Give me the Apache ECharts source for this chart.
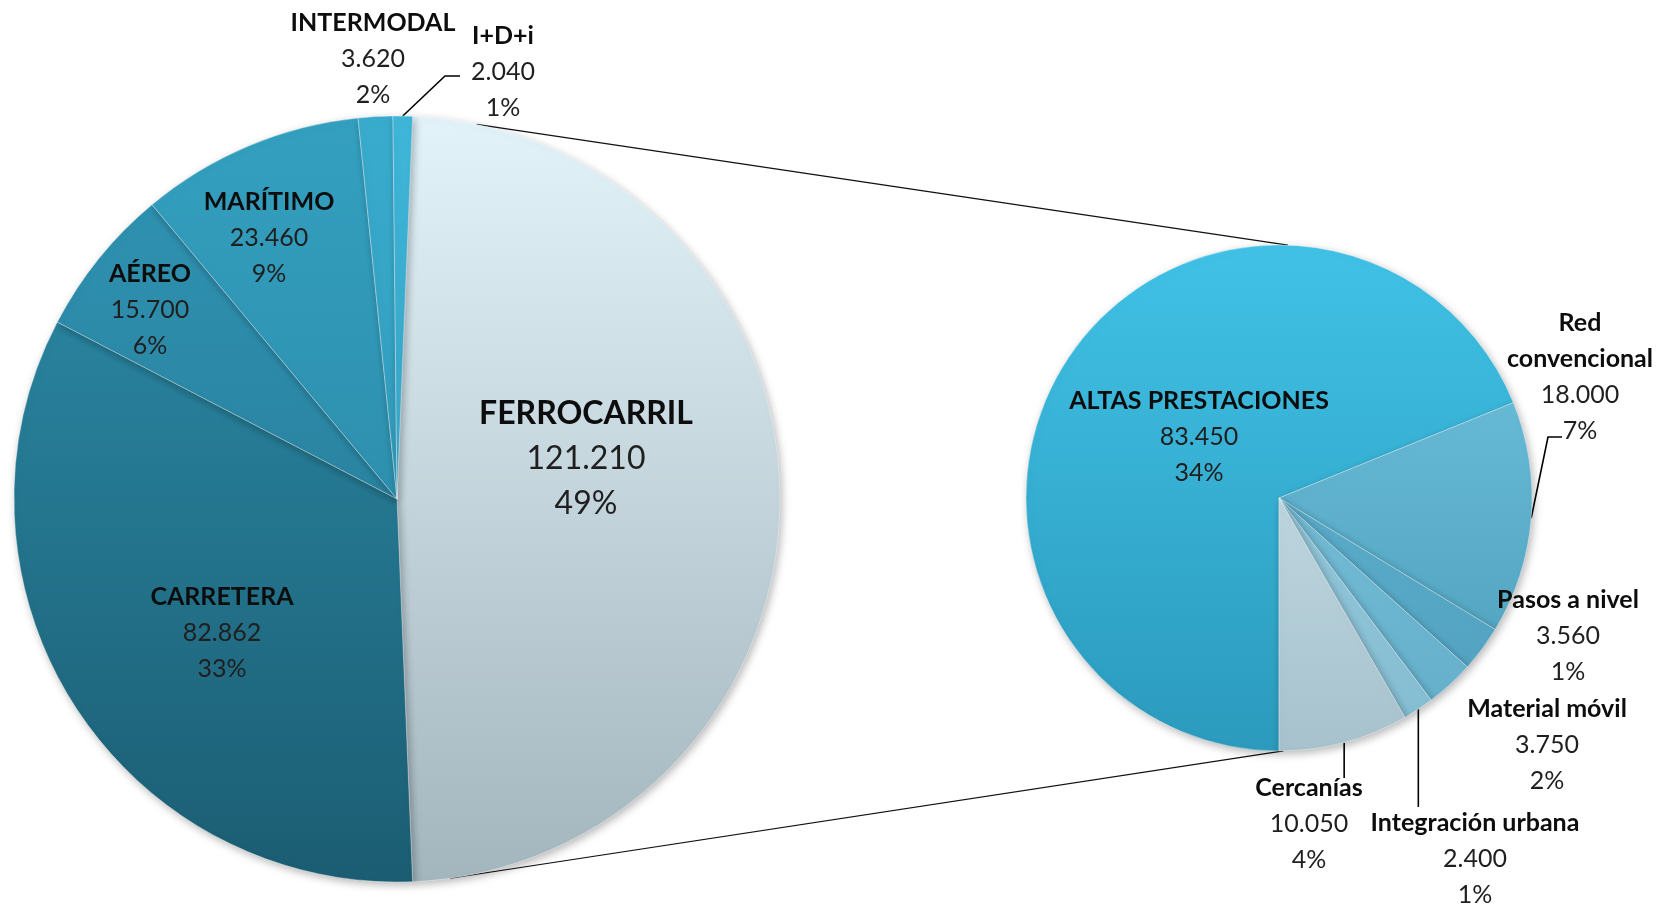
<!DOCTYPE html>
<html>
<head>
<meta charset="utf-8">
<script src="https://cdn.jsdelivr.net/npm/echarts@6/dist/echarts.min.js"></script>
<style>
html,body{margin:0;padding:0;background:#ffffff;}
#c{width:1665px;height:906px;}
</style>
</head>
<body>
<div id="c"></div>
<script>
// ---------------- DATA ----------------
const MAIN_CATEGORIES = ['FERROCARRIL', 'CARRETERA', 'AÉREO', 'MARÍTIMO', 'INTERMODAL', 'I+D+i'];
const MAIN_VALUES = [121210, 82862, 15700, 23460, 3620, 2040];
const MAIN_PCT_LABELS = ['49%', '33%', '6%', '9%', '2%', '1%'];

const RAIL_CATEGORIES = ['ALTAS PRESTACIONES', 'Red convencional', 'Pasos a nivel', 'Material móvil', 'Integración urbana', 'Cercanías'];
const RAIL_VALUES = [83450, 18000, 3560, 3750, 2400, 10050];
const RAIL_PCT_LABELS = ['34%', '7%', '1%', '2%', '1%', '4%'];

// ---------------- LAYOUT / STYLE ----------------
const LEFT = {cx: 397, cy: 499, r: 383};
const RIGHT = {cx: 1279, cy: 498, r: 253};

const LEFT_COLORS = [
  ['#e3f3fa', '#a3b5bd'],
  ['#2e90ae', '#1b5d72'],
  ['#3095b5', '#23728c'],
  ['#34a0c0', '#277f9b'],
  ['#39acce', '#2c8cab'],
  ['#3fb6d9', '#3095b5']
];
const RIGHT_COLORS = [
  ['#40c2e6', '#2b9abd'],
  ['#74c8e3', '#4a9bb8'],
  ['#66bad7', '#4f9fbd'],
  ['#86cbe2', '#62adc9'],
  ['#a8d6e7', '#82bbd0'],
  ['#d4e9f2', '#a7c2cd']
];

const LEFT_LABEL_POS = [[586, 459], [222, 633], [150, 310], [269, 238], [373, 59], [503, 72]];
const RIGHT_LABEL_POS = [[1199, 437], [1580, 377], [1568, 636], [1547, 745], [1475, 859], [1309, 824]];

// leader lines: relative elbow/end to label centre; 'v' = vertical drop from anchor
const LEFT_LEADERS = {5: {elbow: [-58, 4], end: [-43, 4]}};
const RIGHT_LEADERS = {1: {elbow: [-32, 60], end: [-18, 60]}, 4: {v: -52}, 5: {v: -46}};

const CONNECT = {leftTop: 78, rightTop: 88, leftBottom: -82, rightBottom: -89};

const FONT = 'Lato, "Noto Sans", sans-serif';

function fmtNum(v) { return String(v).replace(/\B(?=(\d{3})+(?!\d))/g, '.'); }

function vgrad(c, geo) {
  return {
    type: 'linear', global: true,
    x: 0, y: geo.cy - geo.r, x2: 0, y2: geo.cy + geo.r,
    colorStops: [{offset: 0, color: c[0]}, {offset: 1, color: c[1]}]
  };
}

function buildData(cats, vals, pcts, colors, geo, leaders, bigIndex) {
  return cats.map(function (name, i) {
    const isBig = i === bigIndex;
    const nm = name === 'Red convencional' ? 'Red\nconvencional' : name;
    const nStyle = isBig ? 'nb' : 'n';
    const vStyle = isBig ? 'vb' : 'v';
    const nameLines = nm.split('\n').map(function (s) { return '{' + nStyle + '|' + s + '}'; }).join('\n');
    return {
      name: name,
      value: vals[i],
      itemStyle: {color: vgrad(colors[i], geo)},
      label: {
        formatter: nameLines + '\n{' + vStyle + '|' + fmtNum(vals[i]) + '}\n{' + vStyle + '|' + pcts[i] + '}'
      },
      labelLine: {show: !!leaders[i]}
    };
  });
}

function makeLayout(posArr, leaders) {
  return function (p) {
    const pos = posArr[p.dataIndex];
    const out = {x: pos[0], y: pos[1], align: 'center', verticalAlign: 'middle'};
    const ld = leaders[p.dataIndex];
    if (ld && p.labelLinePoints && p.labelLinePoints.length) {
      const a = p.labelLinePoints[0];
      if (ld.v !== undefined) {
        out.labelLinePoints = [[a[0], a[1]], [a[0], pos[1] + ld.v], [a[0], pos[1] + ld.v]];
      } else {
        out.labelLinePoints = [[a[0], a[1]], [pos[0] + ld.elbow[0], pos[1] + ld.elbow[1]], [pos[0] + ld.end[0], pos[1] + ld.end[1]]];
      }
    }
    return out;
  };
}

const RICH = {
  n: {fontFamily: FONT, fontWeight: 'bold', fontSize: 25, lineHeight: 36, color: '#0d0d0d'},
  v: {fontFamily: FONT, fontSize: 25, lineHeight: 36, color: '#1f1f1f'},
  nb: {fontFamily: FONT, fontWeight: 'bold', fontSize: 32, lineHeight: 45, color: '#0d0d0d'},
  vb: {fontFamily: FONT, fontSize: 32, lineHeight: 45, color: '#1f1f1f'}
};

const mainTotal = MAIN_VALUES.reduce(function (a, b) { return a + b; }, 0);
const leftStart = 180 * MAIN_VALUES[0] / mainTotal;

const baseItemStyle = {
  borderColor: 'rgba(255,255,255,0.35)',
  borderWidth: 1,
  shadowBlur: 8,
  shadowOffsetX: 2,
  shadowOffsetY: 3,
  shadowColor: 'rgba(0,0,0,0.28)'
};

function pt(geo, deg) {
  const a = deg * Math.PI / 180;
  return [geo.cx + geo.r * Math.cos(a), geo.cy - geo.r * Math.sin(a)];
}
const lt = pt(LEFT, CONNECT.leftTop), rt = pt(RIGHT, CONNECT.rightTop);
const lb = pt(LEFT, CONNECT.leftBottom), rb = pt(RIGHT, CONNECT.rightBottom);

const chart = echarts.init(document.getElementById('c'), null, {renderer: 'canvas'});
chart.setOption({
  animation: false,
  backgroundColor: '#ffffff',
  graphic: [
    {type: 'line', z: 0, shape: {x1: lt[0], y1: lt[1], x2: rt[0], y2: rt[1]}, style: {stroke: '#111', lineWidth: 1.2}},
    {type: 'line', z: 0, shape: {x1: lb[0], y1: lb[1], x2: rb[0], y2: rb[1]}, style: {stroke: '#111', lineWidth: 1.2}}
  ],
  series: [
    {
      type: 'pie',
      z: 3,
      center: [LEFT.cx, LEFT.cy],
      radius: LEFT.r,
      startAngle: leftStart,
      clockwise: true,
      avoidLabelOverlap: false,
      itemStyle: baseItemStyle,
      label: {show: true, position: 'outside', rich: RICH},
      labelLine: {show: false, length: 10, length2: 10, lineStyle: {color: '#000', width: 1.6}},
      labelLayout: makeLayout(LEFT_LABEL_POS, LEFT_LEADERS),
      emphasis: {disabled: true},
      data: buildData(MAIN_CATEGORIES, MAIN_VALUES, MAIN_PCT_LABELS, LEFT_COLORS, LEFT, LEFT_LEADERS, 0)
    },
    {
      type: 'pie',
      z: 3,
      center: [RIGHT.cx, RIGHT.cy],
      radius: RIGHT.r,
      startAngle: 270,
      clockwise: true,
      avoidLabelOverlap: false,
      itemStyle: baseItemStyle,
      label: {show: true, position: 'outside', rich: RICH},
      labelLine: {show: false, length: 10, length2: 10, lineStyle: {color: '#000', width: 1.6}},
      labelLayout: makeLayout(RIGHT_LABEL_POS, RIGHT_LEADERS),
      emphasis: {disabled: true},
      data: buildData(RAIL_CATEGORIES, RAIL_VALUES, RAIL_PCT_LABELS, RIGHT_COLORS, RIGHT, RIGHT_LEADERS, -1)
    }
  ]
});
</script>
</body>
</html>
